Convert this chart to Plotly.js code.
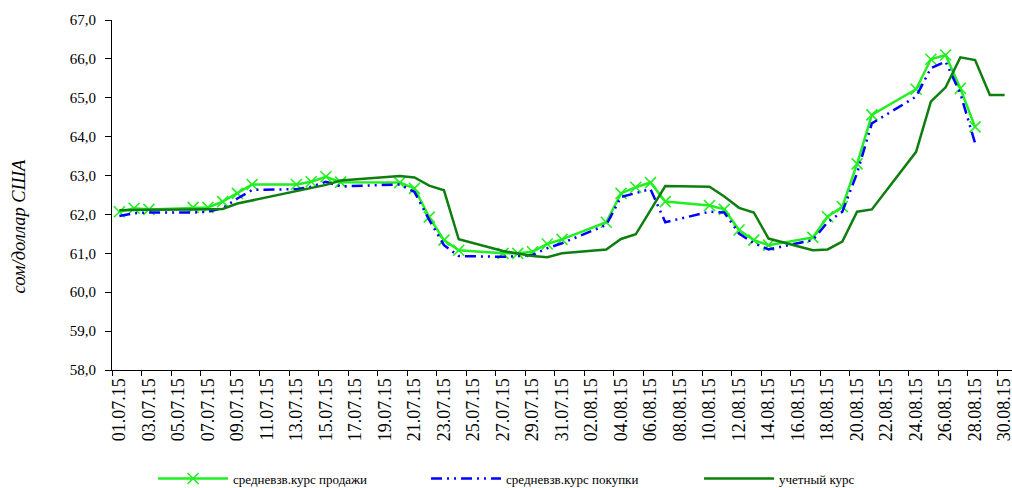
<!DOCTYPE html>
<html>
<head>
<meta charset="utf-8">
<script src="https://cdn.plot.ly/plotly-3.0.1.min.js"></script>
<style>html,body{margin:0;padding:0;background:#fff;}#chart{width:1012px;height:488px;}</style>
</head>
<body>
<div id="chart"></div>
<script>
const dates = ["01.07.15","02.07.15","03.07.15","04.07.15","05.07.15","06.07.15","07.07.15","08.07.15","09.07.15","10.07.15",
"11.07.15","12.07.15","13.07.15","14.07.15","15.07.15","16.07.15","17.07.15","18.07.15","19.07.15","20.07.15",
"21.07.15","22.07.15","23.07.15","24.07.15","25.07.15","26.07.15","27.07.15","28.07.15","29.07.15","30.07.15",
"31.07.15","01.08.15","02.08.15","03.08.15","04.08.15","05.08.15","06.08.15","07.08.15","08.08.15","09.08.15",
"10.08.15","11.08.15","12.08.15","13.08.15","14.08.15","15.08.15","16.08.15","17.08.15","18.08.15","19.08.15",
"20.08.15","21.08.15","22.08.15","23.08.15","24.08.15","25.08.15","26.08.15","27.08.15","28.08.15","29.08.15","30.08.15"];

const saleRate = [62.07,62.16,62.13,null,null,62.18,62.18,62.33,62.54,62.77,
null,null,62.77,62.84,62.97,62.83,null,null,null,62.82,
62.67,61.93,61.34,61.08,null,null,61.00,61.00,61.04,61.24,
61.36,null,null,61.80,62.54,62.70,62.82,62.33,null,null,
62.23,62.13,61.60,61.34,61.21,null,null,61.41,61.94,62.20,
63.30,64.56,null,null,65.22,65.99,66.10,65.24,64.25,null,null];

const buyRate = [61.96,62.03,62.05,null,null,62.05,62.07,62.16,62.41,62.63,
null,null,62.65,62.71,62.84,62.72,null,null,null,62.77,
62.58,61.86,61.21,60.93,null,null,60.91,60.93,60.96,61.13,
61.26,null,null,61.73,62.45,62.55,62.65,61.80,null,null,
62.07,62.05,61.51,61.26,61.10,null,null,61.34,61.80,62.07,
63.06,64.34,null,null,65.03,65.76,65.93,65.11,63.83,null,null];

const officialRate = [62.11,62.12,62.12,null,null,62.13,62.13,62.14,62.28,62.36,
null,null,62.60,62.68,62.76,62.87,null,null,null,62.99,
62.95,62.74,62.62,61.36,null,null,61.06,60.99,60.93,60.90,
61.00,null,null,61.10,61.37,61.49,62.11,62.73,null,null,
62.71,62.46,62.17,62.05,61.38,null,null,61.08,61.10,61.30,
62.07,62.13,null,null,63.61,64.90,65.27,66.04,65.97,65.07,65.07];

const seriesNames = ["средневзв.курс продажи","средневзв.курс покупки","учетный курс"];
const yTitle = "сом/доллар США";

const serif = "'Liberation Serif', 'Times New Roman', serif";

const traces = [
  {x: dates, y: saleRate, name: seriesNames[0], type: "scatter", mode: "lines+markers", connectgaps: true,
   line: {color: "#22EE22", width: 2.5},
   marker: {symbol: "x-thin-open", size: 11, color: "#22EE22", line: {color: "#22EE22", width: 1.6}}},
  {x: dates, y: buyRate, name: seriesNames[1], type: "scatter", mode: "lines", connectgaps: true,
   line: {color: "#0000FF", width: 2.5, dash: "11px,5px,2px,5px,2px,5px"}},
  {x: dates, y: officialRate, name: seriesNames[2], type: "scatter", mode: "lines", connectgaps: true,
   line: {color: "#0E7F0E", width: 2.5}}
];

const layout = {
  width: 1012, height: 488,
  margin: {l: 112, r: 0, t: 20, b: 118, pad: 0},
  paper_bgcolor: "#fff", plot_bgcolor: "#fff",
  separators: ", ",
  font: {family: serif, size: 15, color: "#000"},
  showlegend: true,
  legend: {orientation: "h", x: 0.0456, xanchor: "left", xref: "paper",
           yref: "container", y: 0.05, yanchor: "top",
           font: {family: serif, size: 13, color: "#000"}, entrywidth: 188, entrywidthmode: "pixels",
           itemwidth: 70, bgcolor: "rgba(0,0,0,0)"},
  xaxis: {type: "category", categoryorder: "array", categoryarray: dates,
          range: [-0.5, 60.5], tickmode: "linear", tick0: 0, dtick: 2,
          tickson: "boundaries", ticks: "outside", ticklen: 5, tickcolor: "#000",
          tickangle: -90, showline: true, linecolor: "#000", linewidth: 1,
          showgrid: false, zeroline: false, fixedrange: true, automargin: false,
          tickfont: {family: serif, size: 18, color: "#000"}},
  yaxis: {range: [58, 67], dtick: 1, tick0: 58, tickformat: ".1f",
          ticks: "outside", ticklen: 6, tickcolor: "#000", ticklabelstandoff: 6,
          showline: true, linecolor: "#000", linewidth: 1,
          showgrid: false, zeroline: false, fixedrange: true, automargin: false,
          tickfont: {family: serif, size: 15, color: "#000"}},
  annotations: [{text: "<i>" + yTitle + "</i>", xref: "paper", yref: "paper",
                 x: -0.1044, y: 0.41, xanchor: "center", yanchor: "middle",
                 textangle: -90, showarrow: false,
                 font: {family: serif, size: 18.5, color: "#000"}}]
};

Plotly.newPlot("chart", traces, layout, {displayModeBar: false, staticPlot: true});
</script>
</body>
</html>
